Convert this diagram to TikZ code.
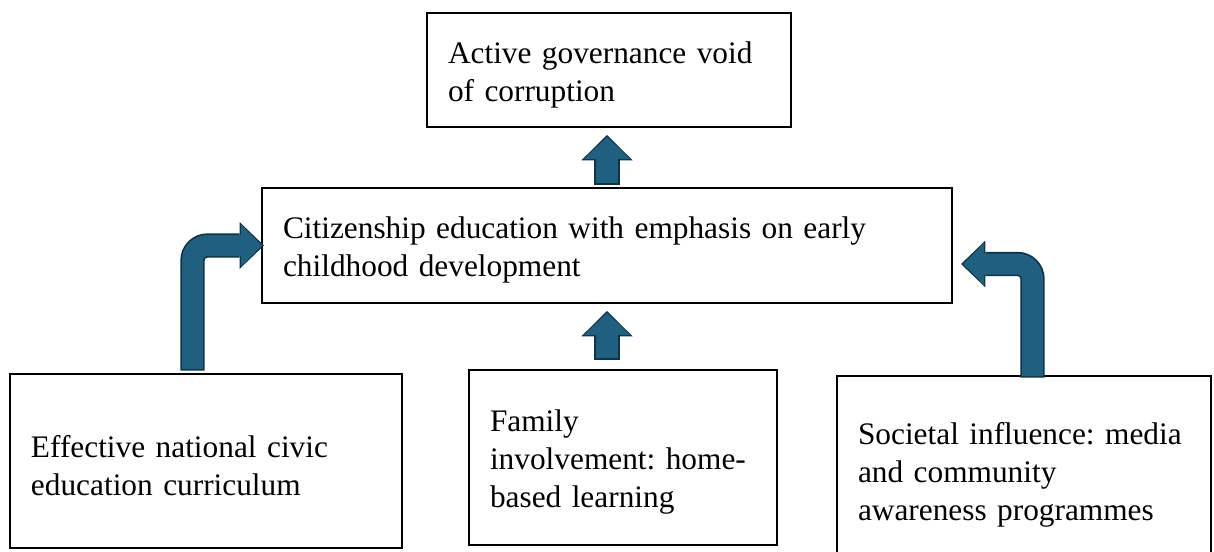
\documentclass[tikz,border=0pt]{standalone}
\usepackage{fontspec}
\setmainfont{Liberation Serif}
\usetikzlibrary{arrows.meta,calc}

\definecolor{arrowfill}{RGB}{31,95,128}
\definecolor{arrowline}{RGB}{16,50,72}
\newcommand\boxfont{\fontsize{23.5}{28.5}\selectfont\frenchspacing\hyphenpenalty=10000}

\tikzset{
  stagebox/.style={draw, line width=1.5pt, outer sep=0pt, anchor=north west, align=left,
    inner xsep=15.75pt, inner ysep=0pt, font=\boxfont,
    execute at begin node={\rule{0pt}{23pt}}},
  uparrow/.style={draw=arrowfill, line width=16.5pt, line cap=butt,
    -{Triangle[width=35pt,length=16.5pt,line width=0pt]},
    preaction={draw=arrowline, line width=19pt, shorten <=-1.2pt, shorten >=-1.5pt,
      -{Triangle[width=38.5pt,length=19pt,line width=0pt]}}},
  bentarrow/.style={draw=arrowfill, line width=15.75pt, line cap=butt, rounded corners=11.25pt,
    -{Triangle[width=31.5pt,length=15.75pt,line width=0pt]},
    preaction={draw=arrowline, line width=18.25pt, shorten <=-1.2pt, shorten >=-1.5pt,
      -{Triangle[width=35pt,length=18.25pt,line width=0pt]}}}
}

\begin{document}
\begin{tikzpicture}[x=0.75pt,y=0.75pt,yscale=-1,xscale=1]
\useasboundingbox (0,0) rectangle (1214,551);

%Shape: Rectangle [goal]
\node[stagebox, text width=241.5pt, minimum height=85.5pt] (gov) at (427,13)
  {Active governance void\\of corruption};
%Shape: Rectangle [citizenship]
\node[stagebox, text width=486pt, minimum height=86.25pt] (cit) at (262,188)
  {Citizenship education with emphasis on early\\childhood development};
%Shape: Rectangle [curriculum]
\node[stagebox, text width=262.5pt, minimum height=130.5pt] (curr) at (10,374)
  {Effective national civic\\education curriculum};
%Shape: Rectangle [family]
\node[stagebox, text width=199.5pt, minimum height=131.25pt] (fam) at (469,370)
  {Family\\involvement: home-\\based learning};
%Shape: Rectangle [society]
\node[stagebox, text width=249pt, minimum height=142.5pt] (soc) at (837,376)
  {Societal influence: media\\and community\\awareness programmes};

%Block Arrows
\draw[uparrow] ($(cit.north)+(0,-5)$) -- ($(cit.north |- gov.south)+(0,10)$);
\draw[uparrow] ($(fam.north -| cit.south)+(0,-12)$) -- ($(cit.south)+(0,10)$);
\draw[bentarrow] ($(curr.north)+(-13.5,-5)$) |- (cit.west);
\draw[bentarrow] ($(soc.north)+(8.5,0)$) |- ($(cit.east)+(11,18.5)$);

\end{tikzpicture}
\end{document}
